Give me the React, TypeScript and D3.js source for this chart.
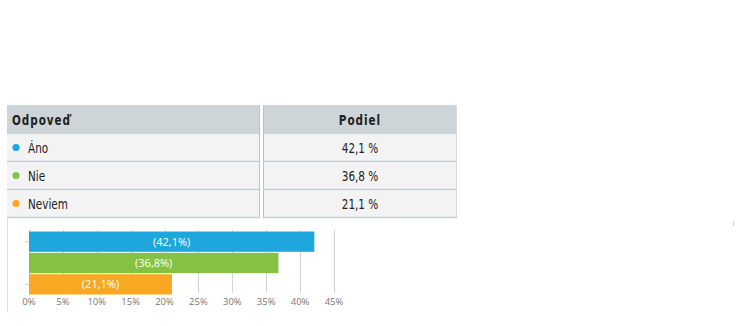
import React from "react";
import * as d3 from "d3";

const categories = ["Áno", "Nie", "Neviem"];
const shares = [42.1, 36.8, 21.1];
const shareLabels = ["42,1 %", "36,8 %", "21,1 %"];
const barLabels = ["(42,1%)", "(36,8%)", "(21,1%)"];
const colors = ["#1ea7dd", "#86c242", "#f8a823"];
const xTicks = [0, 5, 10, 15, 20, 25, 30, 35, 40, 45];
const headers = ["Odpoveď", "Podiel"];

const W = 740;
const H = 326;
const tableFont = "'DejaVu Sans Condensed', 'Liberation Sans Narrow', sans-serif";
const axisFont = "'Open Sans', 'DejaVu Sans', sans-serif";
const SX = 0.8;

function NarrowText(props: { x: number; y: number; anchor?: string; bold?: boolean; spacing?: number; children: React.ReactNode }) {
  const { x, y, anchor, bold, spacing, children } = props;
  return (
    <g transform={`translate(${x},${y}) scale(${SX},1)`}>
      <text x={0} y={0} textAnchor={anchor || "start"} fontFamily={tableFont} fontWeight={bold ? "bold" : "normal"} fontSize={14.5} letterSpacing={spacing || 0} fill="#222">{children}</text>
    </g>
  );
}

export default function App() {
  const x = d3.scaleLinear().domain([0, 45]).range([29, 334]);
  const y = d3.scaleBand().domain(categories).range([231.5, 294.5]).paddingInner(0.05);
  const rowY = d3.scaleBand().domain(categories).range([134, 218]);

  const c1x0 = 7, c1x1 = 260, c2x0 = 263, c2x1 = 457;
  const headTop = 105, headBot = 134;

  return (
    <div style={{ position: "absolute", left: 0, top: 0, width: W, height: H, background: "#fff" }}>
      <svg width={W} height={H} style={{ display: "block" }}>
        <rect x={0} y={0} width={W} height={H} fill="#fff" />
        {/* header */}
        <rect x={c1x0} y={headTop} width={c1x1 - c1x0} height={headBot - headTop} fill="#cdd5d8" />
        <rect x={c2x0} y={headTop} width={c2x1 - c2x0} height={headBot - headTop} fill="#cdd5d8" />
        <NarrowText x={12} y={(headTop + headBot) / 2 + 5} bold spacing={1.2}>{headers[0]}</NarrowText>
        <NarrowText x={(c2x0 + c2x1) / 2} y={(headTop + headBot) / 2 + 5} anchor="middle" bold spacing={1.2}>{headers[1]}</NarrowText>
        {/* rows */}
        {categories.map((c, i) => {
          const ry = rowY(c) as number;
          const rh = rowY.bandwidth();
          return (
            <g key={c}>
              <rect x={c1x0} y={ry} width={c1x1 - c1x0} height={rh} fill="#f3f3f3" />
              <rect x={c2x0} y={ry} width={c2x1 - c2x0} height={rh} fill="#f3f3f3" />
              <line x1={c1x0} x2={c1x1} y1={ry + rh - 0.5} y2={ry + rh - 0.5} stroke="#c3cdd0" strokeWidth={1.5} />
              <line x1={c2x0} x2={c2x1} y1={ry + rh - 0.5} y2={ry + rh - 0.5} stroke="#c3cdd0" strokeWidth={1.5} />
              <circle cx={16} cy={ry + rh / 2 - 0.5} r={3.6} fill={colors[i]} />
              <NarrowText x={28} y={ry + rh / 2 + 5}>{c}</NarrowText>
              <NarrowText x={(c2x0 + c2x1) / 2} y={ry + rh / 2 + 5} anchor="middle">{shareLabels[i]}</NarrowText>
            </g>
          );
        })}
        {/* column borders */}
        <line x1={c1x1 - 0.5} x2={c1x1 - 0.5} y1={headTop} y2={218} stroke="#b9c3c6" />
        <line x1={c2x0 + 0.5} x2={c2x0 + 0.5} y1={headTop} y2={218} stroke="#b9c3c6" />
        <line x1={c2x1 - 0.5} x2={c2x1 - 0.5} y1={headTop} y2={218} stroke="#d6dcde" />
        {/* left container border */}
        <line x1={7.5} x2={7.5} y1={218} y2={312} stroke="#e2e2e2" />
        {/* tiny mark at right */}
        <line x1={733.5} x2={733.5} y1={221} y2={226} stroke="#d0d0d0" />

        {/* grid */}
        {xTicks.map((t) => (
          <line key={t} x1={Math.round(x(t)) + 0.5} x2={Math.round(x(t)) + 0.5} y1={230} y2={293} stroke="#d4d4d4" />
        ))}
        {/* y ticks */}
        {[categories[0], categories[2]].map((c) => (
          <line key={c} x1={25} x2={29} y1={(y(c) as number) + y.bandwidth() / 2} y2={(y(c) as number) + y.bandwidth() / 2} stroke="#ccc" />
        ))}
        {/* bars */}
        {categories.map((c, i) => (
          <g key={c}>
            <rect x={x(0)} y={y(c) as number} width={x(shares[i]) - x(0)} height={y.bandwidth()} fill={colors[i]} />
            <text x={(x(0) + x(shares[i])) / 2} y={(y(c) as number) + y.bandwidth() / 2 + 4} textAnchor="middle" fontFamily={axisFont} fontSize={11} fill="#fff">{barLabels[i]}</text>
          </g>
        ))}
        {/* x tick labels */}
        {xTicks.map((t) => (
          <text key={t} x={x(t)} y={305} textAnchor="middle" fontFamily={axisFont} fontSize={9.5} fill="#777">{`${t}%`}</text>
        ))}
      </svg>
    </div>
  );
}
